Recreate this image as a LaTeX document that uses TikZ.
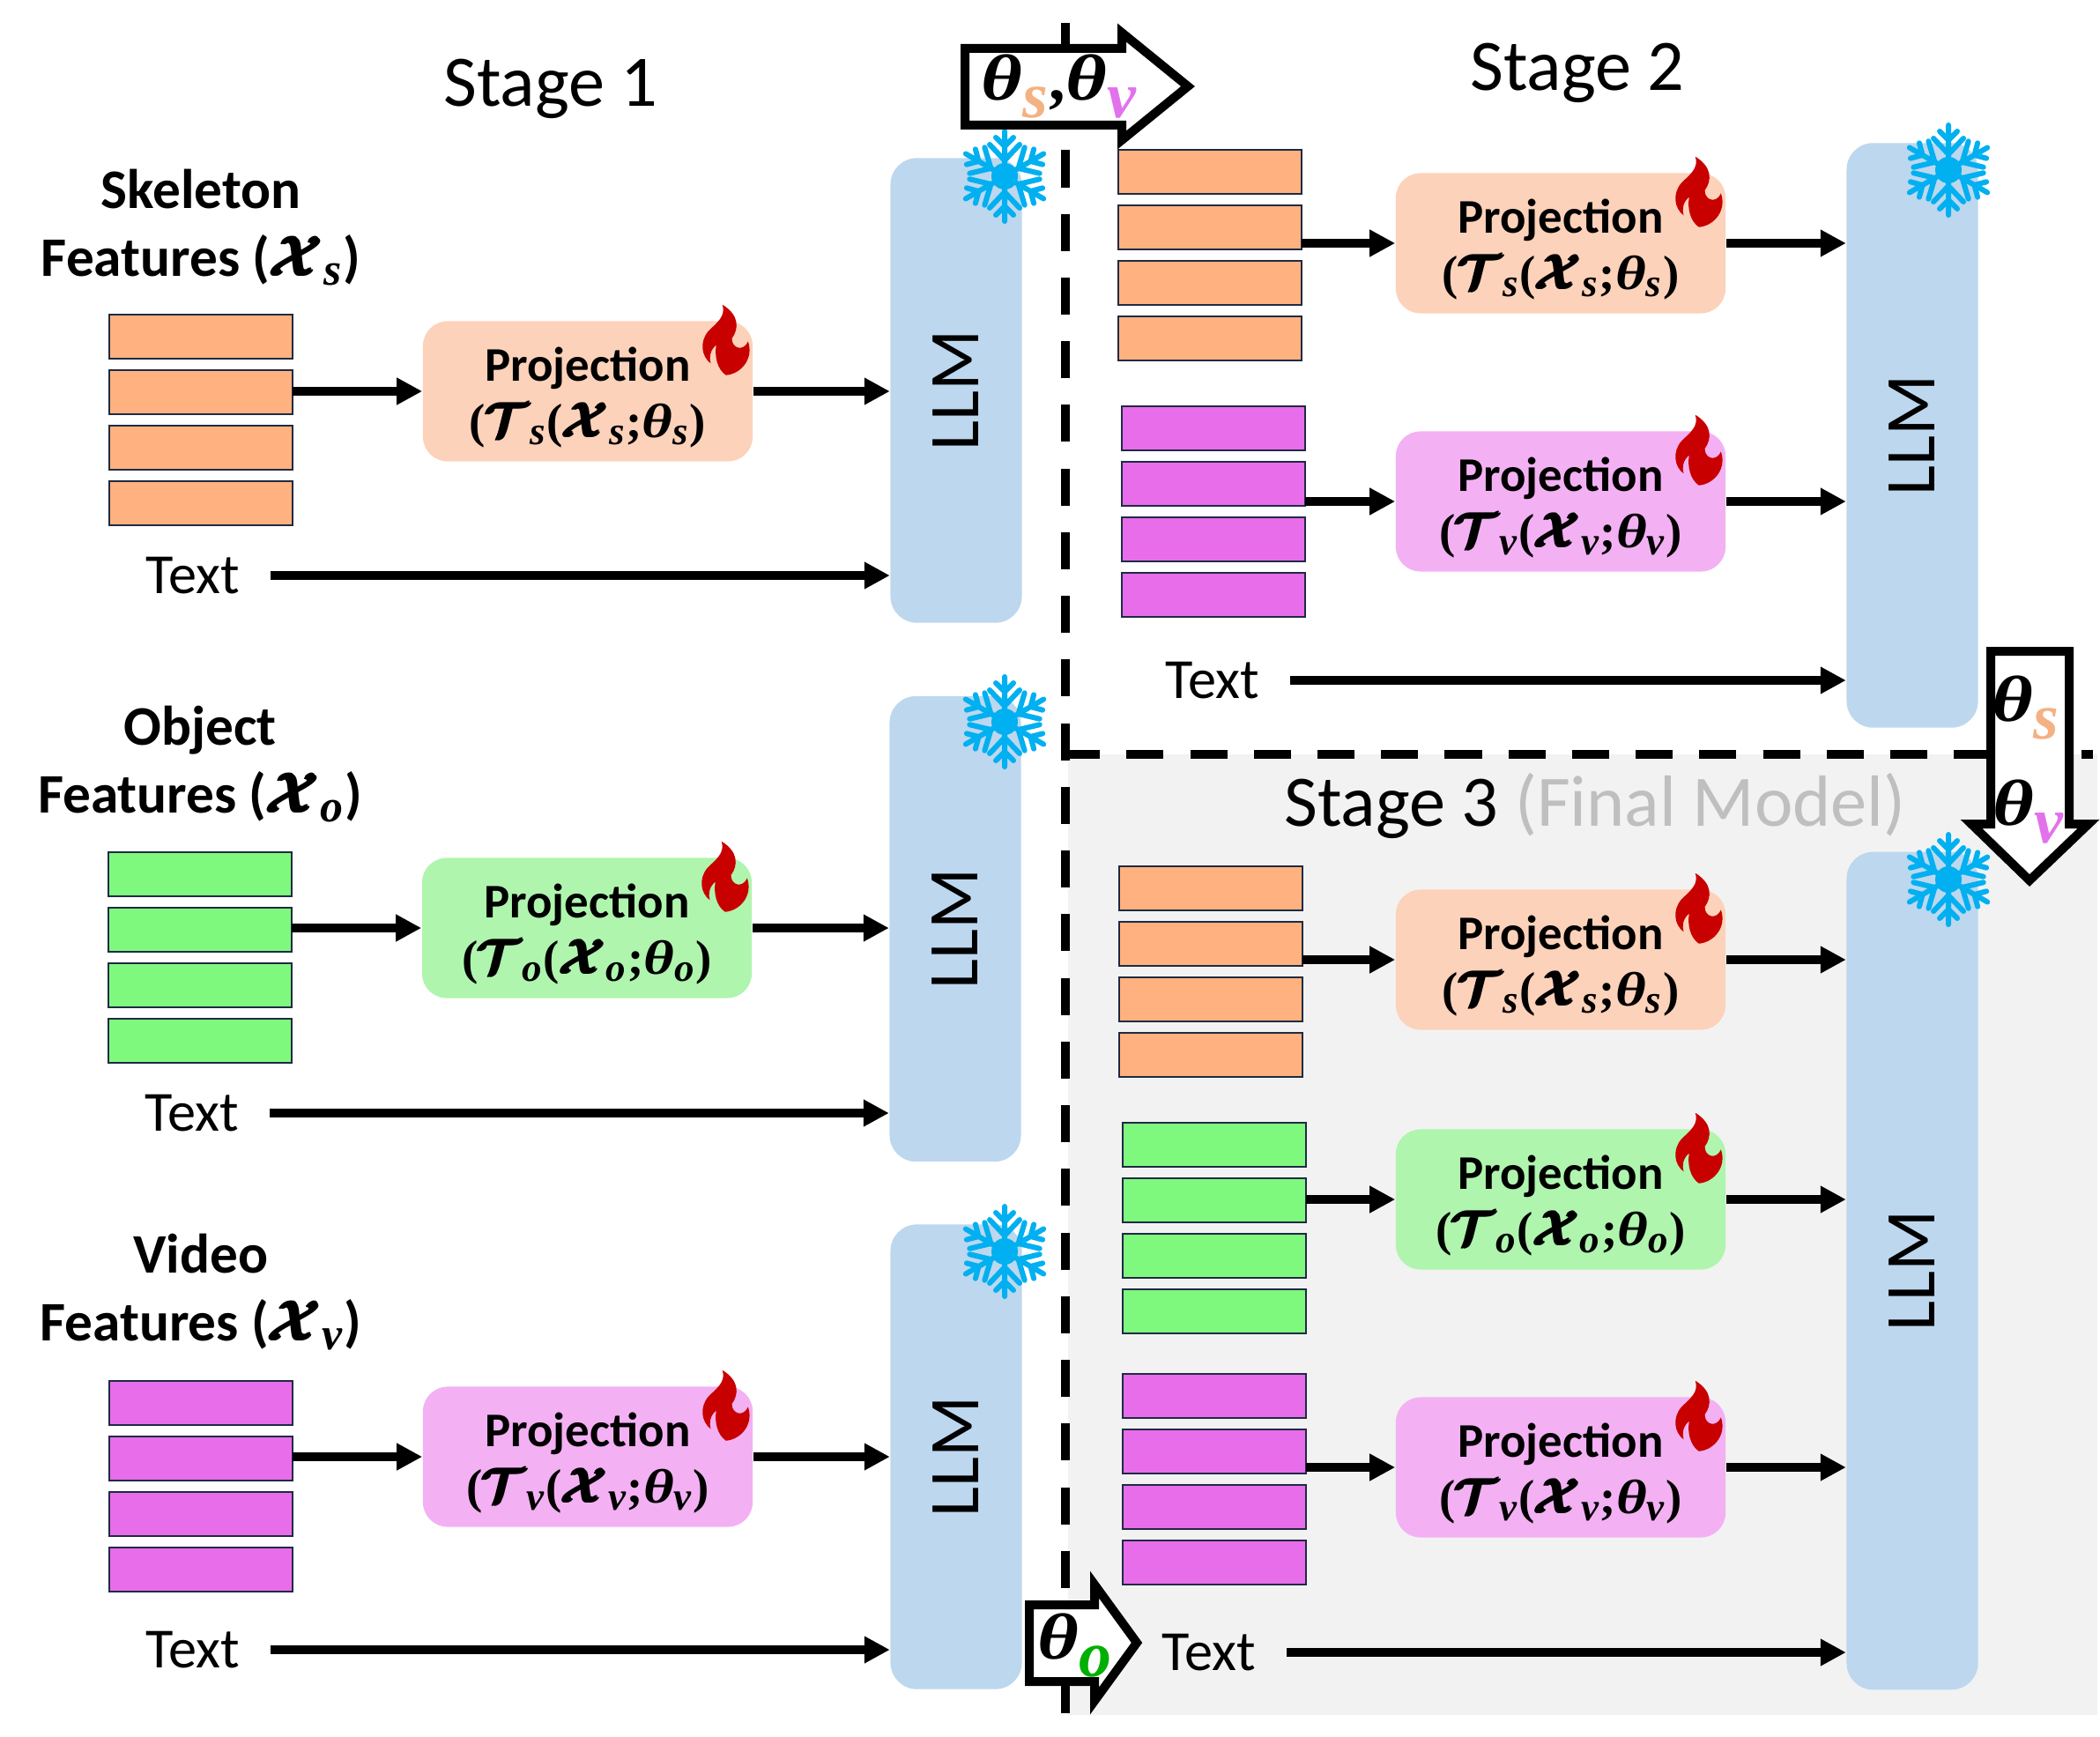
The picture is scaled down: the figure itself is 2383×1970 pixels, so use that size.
\documentclass[tikz,border=0pt]{standalone}
\usepackage{fix-cm}
\usepackage{amsmath}
\usepackage{fontspec}
\setmainfont{Carlito}
\newfontfamily\prmfont{Liberation Serif}
\usetikzlibrary{arrows.meta, positioning, calc}
\definecolor{skelbar}{HTML}{FFB27F}
\definecolor{skelbox}{HTML}{FDD2BA}
\definecolor{skeltxt}{HTML}{F4B183}
\definecolor{objbar}{HTML}{7EF97E}
\definecolor{objbox}{HTML}{AFF5AE}
\definecolor{objtxt}{HTML}{00B000}
\definecolor{vidbar}{HTML}{E86DEA}
\definecolor{vidbox}{HTML}{F3B1F3}
\definecolor{vidtxt}{HTML}{E272EC}
\definecolor{llmblue}{HTML}{BDD7EE}
\definecolor{barline}{HTML}{1F2A44}
\definecolor{flakeblue}{HTML}{00B0F0}
\definecolor{flamered}{HTML}{C80000}
\newcommand{\bsub}[1]{_{\mbox{\scalebox{0.82}{\prmfont\bfseries\itshape #1}}}}
\newcommand{\bigsub}[1]{_{\mbox{\raisebox{-0.12em}{\prmfont\bfseries\itshape #1}}}}
\newcommand{\bth}{\mbox{\scalebox{1.22}[1]{\prmfont\bfseries\itshape θ}}}
\newcommand{\bpar}[1]{\mbox{\prmfont\bfseries #1}}
\newcommand{\calT}{\pmb{\mathcal{T}}}
\newcommand{\calX}{\pmb{\mathcal{X}}}
\newcommand{\prjform}[1]{\rule{0pt}{15pt}Projection\\$\bpar{(}\calT\bsub{#1}\bpar{(}\calX\bsub{#1}\bpar{;}\bth\bsub{#1}\bpar{)}$}
\tikzset{
    snowflake/.pic={
        \fill[flakeblue] (0,0) circle (15);
        \foreach \a in {30,90,...,330}
            \draw[flakeblue, line width=0.06cm, line cap=round, rotate=\a]
                (0,0) -- (51,0) (18,0) -- (36,17) (18,0) -- (36,-17)
                (34,0) -- (44,10) (34,0) -- (44,-10);
    },
    flame/.pic={
        \fill[flamered] (-4,-40) .. controls (15,-28.3) and (15,-13.3) .. (6.7,-1.7)
            .. controls (6.7,10) and (20,13.3) .. (25,1.7)
            .. controls (31.7,20) and (18.3,38.3) .. (0,40)
            .. controls (-10,33.3) and (-13.3,18.3) .. (-11,5.7)
            .. controls (-18.3,11.7) and (-19.3,20) .. (-17.3,26.7)
            .. controls (-28.3,18.3) and (-30,1.7) .. (-20,-10)
            .. controls (-10,-20) and (0,-26.7) .. (-4,-40) -- cycle;
    }
}
\begin{document}
\begin{tikzpicture}[
    x=0.01cm, y=-0.01cm,
    node distance=0.13cm,
    featbar/.style={rectangle, draw=barline, line width=0.02cm, minimum width=2.08cm,
                minimum height=0.5cm, inner sep=0pt, outer sep=0pt},
    skelfeat/.style={featbar, fill=skelbar},
    objfeat/.style={featbar, fill=objbar},
    vidfeat/.style={featbar, fill=vidbar},
    proj/.style={rectangle, rounded corners=0.28cm, minimum width=3.74cm, minimum height=1.59cm,
                inner sep=0pt, align=center,
                font=\fontsize{15.6}{18.2}\selectfont\bfseries\boldmath},
    llm/.style={rectangle, fill=llmblue, rounded corners=0.3cm, minimum width=1.49cm,
                inner sep=0pt, font=\fontsize{23}{27}\selectfont},
    title/.style={font=\fontsize{23.4}{27}\selectfont, inner sep=0pt},
    feattxt/.style={align=center, inner sep=0pt,
                font=\fontsize{18}{22}\selectfont\bfseries\boldmath},
    txtin/.style={font=\fontsize{18.3}{20}\selectfont, inner ysep=0pt, inner xsep=0.34cm},
    arrow/.style={-{Triangle[length=0.29cm,width=0.29cm]}, line width=0.1cm},
    divider/.style={line width=0.1cm, dash pattern=on 0.42cm off 0.302cm},
    bigarrow/.style={draw, fill=white, line width=0.1cm, miter limit=10},
    thetatxt/.style={font=\fontsize{21}{24}\selectfont\boldmath, inner sep=0pt}
]
    % canvas and stage 3 background
    \useasboundingbox (0,0) rectangle (2383,1970);
    \fill[black!5] (1212,856) rectangle (2380,1946);
    \draw[divider] (1209,26) -- (1209,1944);
    \draw[divider] (1206,856) -- (2375,856);

    % titles
    \node[title] (stage1) at (625,101) {Stage 1};
    \node[title] (stage2) at (1790,83) {Stage 2};
    \node[title] (stage3) at (1810,914) {Stage 3 \textcolor{black!25}{(Final Model)}};

    % llm blocks
    \node[llm, minimum height=5.27cm] (llm1s) at (1085,443) {\rotatebox{90}{LLM}};
    \node[llm, minimum height=5.28cm] (llm1o) at (1084,1054) {\rotatebox{90}{LLM}};
    \node[llm, minimum height=5.27cm] (llm1v) at (1085,1653) {\rotatebox{90}{LLM}};
    \node[llm, minimum height=6.63cm] (llm2) at (2170,494) {\rotatebox{90}{LLM}};
    \node[llm, minimum height=9.50cm] (llm3) at (2170,1442) {\rotatebox{90}{LLM}};

    % stage 1 features
    \node[feattxt] (lblskel) at (228,258) {Skeleton\\Features ($\calX\bsub{s}$)};
    \node[skelfeat] (s1a) at (228,382) {};
    \node[skelfeat, below=of s1a] (s1b) {};
    \node[skelfeat, below=of s1b] (s1c) {};
    \node[skelfeat, below=of s1c] (s1d) {};
    \node[feattxt] (lblobj) at (227,867) {Object\\Features ($\calX\bsub{o}$)};
    \node[objfeat] (o1a) at (227,992) {};
    \node[objfeat, below=of o1a] (o1b) {};
    \node[objfeat, below=of o1b] (o1c) {};
    \node[objfeat, below=of o1c] (o1d) {};
    \node[feattxt] (lblvid) at (228,1466) {Video\\Features ($\calX\bsub{v}$)};
    \node[vidfeat] (v1a) at (228,1592) {};
    \node[vidfeat, below=of v1a] (v1b) {};
    \node[vidfeat, below=of v1b] (v1c) {};
    \node[vidfeat, below=of v1c] (v1d) {};

    % stage 2 features
    \node[skelfeat] (s2a) at (1373,195) {};
    \node[skelfeat, below=of s2a] (s2b) {};
    \node[skelfeat, below=of s2b] (s2c) {};
    \node[skelfeat, below=of s2c] (s2d) {};
    \node[vidfeat] (v2a) at (1377,486) {};
    \node[vidfeat, below=of v2a] (v2b) {};
    \node[vidfeat, below=of v2b] (v2c) {};
    \node[vidfeat, below=of v2c] (v2d) {};

    % stage 3 features
    \node[skelfeat] (s3a) at (1374,1008) {};
    \node[skelfeat, below=of s3a] (s3b) {};
    \node[skelfeat, below=of s3b] (s3c) {};
    \node[skelfeat, below=of s3c] (s3d) {};
    \node[objfeat] (o3a) at (1378,1299) {};
    \node[objfeat, below=of o3a] (o3b) {};
    \node[objfeat, below=of o3b] (o3c) {};
    \node[objfeat, below=of o3c] (o3d) {};
    \node[vidfeat] (v3a) at (1378,1584) {};
    \node[vidfeat, below=of v3a] (v3b) {};
    \node[vidfeat, below=of v3b] (v3c) {};
    \node[vidfeat, below=of v3c] (v3d) {};

    % projection boxes
    \node[proj, fill=skelbox] (p1s) at (667,444) {\prjform{s}};
    \node[proj, fill=objbox] (p1o) at (666,1053) {\prjform{o}};
    \node[proj, fill=vidbox] (p1v) at (667,1653) {\prjform{v}};
    \node[proj, fill=skelbox] (p2s) at (1771,276) {\prjform{s}};
    \node[proj, fill=vidbox] (p2v) at (1771,569) {\prjform{v}};
    \node[proj, fill=skelbox] (p3s) at (1771,1089) {\prjform{s}};
    \node[proj, fill=objbox] (p3o) at (1771,1361) {\prjform{o}};
    \node[proj, fill=vidbox] (p3v) at (1771,1665) {\prjform{v}};

    % text inputs
    \node[txtin] (txt1s) at (219,653) {Text};
    \node[txtin] (txt1o) at (218,1263) {Text};
    \node[txtin] (txt1v) at (219,1872) {Text};
    \node[txtin] (txt2) at (1376,772) {Text};
    \node[txtin] (txt3) at (1372,1875) {Text};

    % connectors
    \draw[arrow] (p1s.west -| s1b.east) -- (p1s.west);
    \draw[arrow] (p1s.east) -- (p1s.east -| llm1s.west);
    \draw[arrow] (txt1s.east) -- (txt1s.east -| llm1s.west);
    \draw[arrow] (p1o.west -| o1b.east) -- (p1o.west);
    \draw[arrow] (p1o.east) -- (p1o.east -| llm1o.west);
    \draw[arrow] (txt1o.east) -- (txt1o.east -| llm1o.west);
    \draw[arrow] (p1v.west -| v1b.east) -- (p1v.west);
    \draw[arrow] (p1v.east) -- (p1v.east -| llm1v.west);
    \draw[arrow] (txt1v.east) -- (txt1v.east -| llm1v.west);
    \draw[arrow] (p2s.west -| s2b.east) -- (p2s.west);
    \draw[arrow] (p2s.east) -- (p2s.east -| llm2.west);
    \draw[arrow] (p2v.west -| v2b.east) -- (p2v.west);
    \draw[arrow] (p2v.east) -- (p2v.east -| llm2.west);
    \draw[arrow] (txt2.east) -- (txt2.east -| llm2.west);
    \draw[arrow] (p3s.west -| s3b.east) -- (p3s.west);
    \draw[arrow] (p3s.east) -- (p3s.east -| llm3.west);
    \draw[arrow] (p3o.west -| o3b.east) -- (p3o.west);
    \draw[arrow] (p3o.east) -- (p3o.east -| llm3.west);
    \draw[arrow] (p3v.west -| v3b.east) -- (p3v.west);
    \draw[arrow] (p3v.east) -- (p3v.east -| llm3.west);
    \draw[arrow] (txt3.east) -- (txt3.east -| llm3.west);

    % flames on the projections
    \foreach \n in {p1s,p1o,p1v,p2s,p2v,p3s,p3o,p3v}
        \pic at ($(\n.north east)+(-31,22)$) {flame};

    % frozen llm marks
    \pic at (1140,200) {snowflake};
    \pic at (1140,819) {snowflake};
    \pic at (1140,1420) {snowflake};
    \pic at (2211,193) {snowflake};
    \pic at (2211,998) {snowflake};

    % parameter transfer arrows
    \draw[bigarrow] (1095,55) -- (1273,55) -- (1273,37) -- (1348,98) -- (1273,159)
        -- (1273,142) -- (1095,142) -- cycle;
    \node[thetatxt] (thetasv) at (1202,98)
        {$\bth\bigsub{\textcolor{skeltxt}{s}}\bpar{,}\bth\bigsub{\textcolor{vidtxt}{v}}$};
    \draw[bigarrow] (2259,739) -- (2348,739) -- (2348,935) -- (2370,935) -- (2303,999)
        -- (2237,935) -- (2259,935) -- cycle;
    \node[thetatxt] (thetas) at (2299,803) {$\bth\bigsub{\textcolor{skeltxt}{s}}$};
    \node[thetatxt] (thetav) at (2302,921) {$\bth\bigsub{\textcolor{vidtxt}{v}}$};
    \draw[bigarrow] (1168,1821) -- (1242,1821) -- (1242,1798) -- (1290,1864) -- (1242,1930)
        -- (1242,1908) -- (1168,1908) -- cycle;
    \node[thetatxt] (thetao) at (1220,1867) {$\bth\bigsub{\textcolor{objtxt}{o}}$};
\end{tikzpicture}
\end{document}
